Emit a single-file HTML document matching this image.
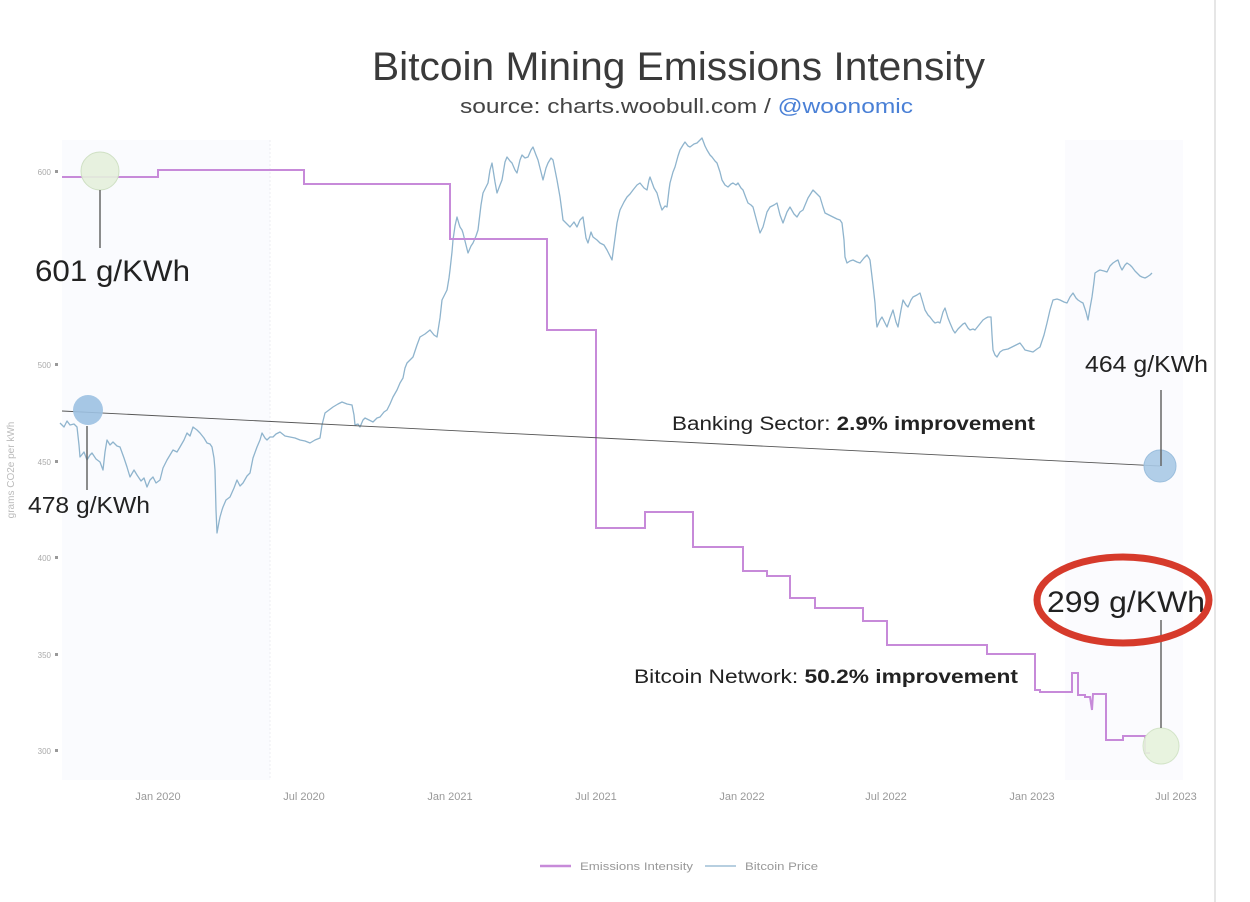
<!DOCTYPE html>
<html>
<head>
<meta charset="utf-8">
<style>
html,body{margin:0;padding:0;background:#fff;}
svg{display:block;}
</style>
</head>
<body>
<svg width="1250" height="902" viewBox="0 0 1250 902" xmlns="http://www.w3.org/2000/svg" font-family="'Liberation Sans', sans-serif">
  <rect width="1250" height="902" fill="#ffffff"/>
  <!-- faint plot shading -->
  <rect x="62" y="140" width="208" height="640" fill="#fafbfe"/>
  <rect x="1065" y="140" width="118" height="640" fill="#fbfbfe"/>
  <line x1="270" y1="140" x2="270" y2="780" stroke="#ececf2" stroke-width="1" stroke-dasharray="2,2"/>
  <line x1="1215" y1="0" x2="1215" y2="902" stroke="#e6e6e6" stroke-width="2"/>

  <!-- Title -->
  <text x="372" y="80" font-size="40" fill="#3a3a3a" textLength="613" lengthAdjust="spacingAndGlyphs">Bitcoin Mining Emissions Intensity</text>
  <text x="460" y="113" font-size="20" fill="#444" textLength="453" lengthAdjust="spacingAndGlyphs">source: charts.woobull.com / <tspan fill="#4a80d6">@woonomic</tspan></text>

  <!-- Y axis -->
  <g font-size="8" fill="#aaa" text-anchor="end">
    <text x="51" y="175">600</text>
    <text x="51" y="368">500</text>
    <text x="51" y="465">450</text>
    <text x="51" y="561">400</text>
    <text x="51" y="658">350</text>
    <text x="51" y="754">300</text>
  </g>
  <g fill="#999">
    <rect x="55" y="170" width="3" height="3"/>
    <rect x="55" y="363" width="3" height="3"/>
    <rect x="55" y="460" width="3" height="3"/>
    <rect x="55" y="556" width="3" height="3"/>
    <rect x="55" y="653" width="3" height="3"/>
    <rect x="55" y="749" width="3" height="3"/>
  </g>
  <text transform="translate(14,470) rotate(-90)" font-size="10" fill="#bbb" text-anchor="middle">grams CO2e per kWh</text>

  <!-- X axis labels -->
  <g font-size="11" fill="#999" text-anchor="middle">
    <text x="158" y="800">Jan 2020</text>
    <text x="304" y="800">Jul 2020</text>
    <text x="450" y="800">Jan 2021</text>
    <text x="596" y="800">Jul 2021</text>
    <text x="742" y="800">Jan 2022</text>
    <text x="886" y="800">Jul 2022</text>
    <text x="1032" y="800">Jan 2023</text>
    <text x="1176" y="800">Jul 2023</text>
  </g>

  <!-- Bitcoin price -->
  <polyline fill="none" stroke="#8fb4cd" stroke-width="1.3" stroke-linejoin="round" points="
  60,423 64,427 67,421 70,425 74,424 77,427 79,445 80,457 84,452 87,460 90,455 92,453 96,459 100,462 103,470 105,452 107,440 110,445 113,442 117,446 120,447 124,458 127,467 130,477 134,470 137,475 141,481 144,478 147,487 150,480 153,477 156,483 160,480 163,468 167,460 170,455 173,450 177,452 180,447 184,440 187,433 190,436 193,427 197,430 200,433 204,438 207,443 210,444 212,447 214,458 215,470 216,510 217,533 219,522 220,517 222,510 223,507 226,500 230,497 234,488 237,480 240,486 243,483 247,476 250,473 253,458 257,447 260,440 262,433 265,438 267,440 270,437 273,437 276,434 280,432 285,436 290,437 295,438 300,440 305,441 310,443 315,440 320,438 322,425 325,413 329,410 333,407 338,404 342,402 347,404 352,405 354,415 355,425 358,424 360,427 363,420 365,418 369,420 373,422 377,418 380,417 384,412 387,410 390,404 393,397 397,390 400,383 403,378 405,368 407,363 410,360 413,357 417,345 420,337 425,334 430,330 434,335 437,337 440,318 442,300 445,294 447,290 449,278 450,270 452,252 453,240 455,226 457,217 459,224 460,227 462,230 463,233 466,245 468,253 471,246 473,243 476,236 478,230 481,205 483,193 486,187 488,183 490,170 492,163 495,182 497,193 500,185 502,180 505,162 507,157 510,161 512,163 515,170 517,173 520,160 522,155 525,158 528,157 531,150 533,147 536,155 538,160 541,172 543,180 546,168 548,163 551,158 553,160 557,180 560,197 562,212 563,220 567,224 570,227 574,222 577,227 580,220 583,217 586,238 588,243 591,232 593,237 597,240 600,243 604,245 607,250 610,256 612,260 615,238 617,223 619,214 620,210 624,202 627,197 630,194 633,190 637,185 640,183 644,188 647,190 649,180 650,177 654,188 657,193 660,204 662,210 665,206 667,207 669,190 670,183 673,172 675,167 678,156 680,150 683,145 685,142 688,146 690,147 694,144 697,143 700,140 702,138 705,146 707,150 710,155 712,157 715,161 717,163 720,172 722,180 725,185 728,187 731,184 733,183 736,185 738,183 741,188 743,190 746,198 748,203 751,205 753,207 757,222 760,233 762,229 763,227 767,212 770,207 774,205 777,203 780,215 783,223 787,212 790,207 794,214 797,217 800,212 803,210 808,198 813,190 817,194 820,197 823,207 825,213 829,215 833,217 837,219 840,220 842,223 844,240 845,257 847,263 850,261 853,260 857,262 860,263 864,258 867,255 869,258 870,260 873,285 875,303 876,318 877,327 880,320 882,317 885,323 887,327 890,318 893,310 896,322 898,327 901,310 903,300 906,305 908,307 911,300 913,297 917,295 920,293 923,303 925,310 928,315 930,317 933,321 935,323 938,322 940,323 943,312 945,308 948,318 950,323 953,330 955,333 958,329 960,327 963,324 965,323 968,328 970,330 973,329 975,330 979,325 983,320 986,318 988,317 991,317 992,335 993,350 995,355 997,357 1000,352 1003,350 1008,349 1012,347 1016,345 1020,343 1023,347 1025,350 1029,351 1033,352 1037,349 1040,347 1044,335 1047,323 1050,310 1053,300 1057,299 1060,300 1064,302 1067,303 1070,297 1073,293 1076,298 1078,300 1081,302 1083,303 1086,312 1088,320 1090,308 1092,297 1094,282 1095,273 1098,271 1100,270 1104,271 1107,272 1110,266 1113,263 1116,261 1118,260 1120,266 1122,270 1125,265 1127,263 1130,265 1132,267 1135,271 1137,273 1140,276 1142,277 1145,278 1147,277 1150,275 1152,273"/>

  <!-- Emissions intensity -->
  <polyline fill="none" stroke="#c78ad9" stroke-width="2" stroke-linejoin="miter" points="
  62,177 158,177 158,170 304,170 304,184 450,184 450,239 547,239 547,330 596,330 596,528 645,528 645,512 693,512 693,547 743,547 743,571 767,571 767,576 790,576 790,598 815,598 815,608 863,608 863,621 887,621 887,645 987,645 987,654 1035,654 1035,690 1040,690 1040,692 1072,692 1072,673 1078,673 1078,695 1085,695 1085,697 1090,697 1092,710 1093,694 1106,694 1106,740 1123,740 1123,736 1145,736 1145,753 1150,753"/>

  <!-- Banking line -->
  <line x1="62" y1="411" x2="1160" y2="466" stroke="#555" stroke-width="0.9"/>

  <!-- Markers -->
  <circle cx="100" cy="171" r="19" fill="#e4f0dc" fill-opacity="0.9" stroke="#cfe0c4" stroke-width="1"/>
  <line x1="100" y1="190" x2="100" y2="248" stroke="#666" stroke-width="1.5"/>
  <circle cx="88" cy="410" r="15" fill="#9cc1e2" fill-opacity="0.9"/>
  <line x1="87" y1="426" x2="87" y2="490" stroke="#666" stroke-width="1.5"/>
  <circle cx="1160" cy="466" r="16" fill="#a9c9e6" fill-opacity="0.9" stroke="#9bbedd" stroke-width="1"/>
  <line x1="1161" y1="390" x2="1161" y2="466" stroke="#666" stroke-width="1.5"/>
  <circle cx="1161" cy="746" r="18" fill="#e6f2dc" fill-opacity="0.9" stroke="#d3e4c8" stroke-width="1"/>
  <line x1="1161" y1="620" x2="1161" y2="728" stroke="#666" stroke-width="1.5"/>

  <!-- Annotations -->
  <text x="35" y="281" font-size="30" fill="#222" textLength="155" lengthAdjust="spacingAndGlyphs">601 g/KWh</text>
  <text x="28" y="513" font-size="23" fill="#222" textLength="122" lengthAdjust="spacingAndGlyphs">478 g/KWh</text>
  <text x="1085" y="372" font-size="23" fill="#222" textLength="123" lengthAdjust="spacingAndGlyphs">464 g/KWh</text>
  <text x="1047" y="612" font-size="30" fill="#222" textLength="158" lengthAdjust="spacingAndGlyphs">299 g/KWh</text>
  <ellipse cx="1123" cy="600" rx="86" ry="43" fill="none" stroke="#d63a2b" stroke-width="7"/>

  <text x="672" y="430" font-size="19" fill="#222" textLength="363" lengthAdjust="spacingAndGlyphs">Banking Sector: <tspan font-weight="bold">2.9% improvement</tspan></text>
  <text x="634" y="683" font-size="19" fill="#222" textLength="384" lengthAdjust="spacingAndGlyphs">Bitcoin Network: <tspan font-weight="bold">50.2% improvement</tspan></text>

  <!-- Legend -->
  <line x1="540" y1="866" x2="571" y2="866" stroke="#c78ad9" stroke-width="2.5"/>
  <text x="580" y="870" font-size="11" fill="#999" textLength="113" lengthAdjust="spacingAndGlyphs">Emissions Intensity</text>
  <line x1="705" y1="866" x2="736" y2="866" stroke="#9fbfd6" stroke-width="1.5"/>
  <text x="745" y="870" font-size="11" fill="#999" textLength="73" lengthAdjust="spacingAndGlyphs">Bitcoin Price</text>
</svg>
</body>
</html>
